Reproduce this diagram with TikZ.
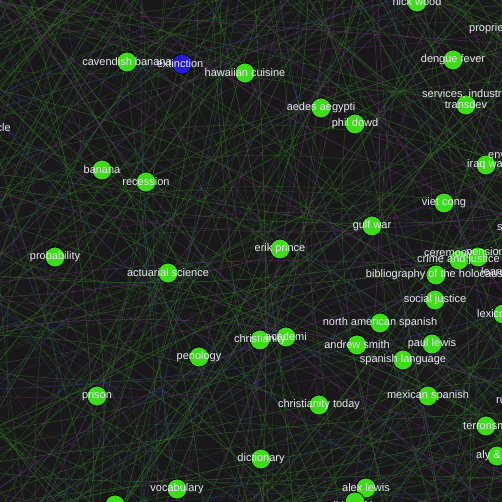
\documentclass[tikz,border=0pt]{standalone}
\usepackage{fontspec}
\setmainfont{Liberation Sans}
\definecolor{bgc}{RGB}{25,23,26}
\definecolor{nodegreen}{RGB}{62,218,28}
\definecolor{nodeblue}{RGB}{36,28,214}
\definecolor{edgegreen}{RGB}{50,118,38}
\definecolor{edgepurple}{RGB}{100,45,110}
\definecolor{edgeblue}{RGB}{45,70,120}
\definecolor{lblc}{RGB}{232,232,240}
\tikzset{
  dot/.style={circle,draw=black,line width=0.7pt,fill=nodegreen,minimum size=20pt,inner sep=0pt},
  bdot/.style={dot,fill=nodeblue},
  lbl/.style={text=lblc,font=\fontsize{11}{13}\selectfont,inner sep=0pt},
  gedge/.style={draw=edgegreen,line width=0.55pt},
  pedge/.style={draw=edgepurple,line width=0.6pt},
  bedge/.style={draw=edgeblue,line width=0.55pt}
}
\begin{document}
\begin{tikzpicture}[x=1pt,y=-1pt]
\useasboundingbox (0,0) rectangle (502,502);
\fill[bgc] (0,0) rectangle (502,502);
\clip (0,0) rectangle (502,502);
% background connectors
\pgfmathsetseed{4711}
\foreach \i in {1,...,300}{
  \pgfmathsetmacro\aa{rnd*360}
  \pgfmathsetmacro\ab{\aa+70+rnd*220}
  \pgfmathsetmacro\xa{251+430*cos(\aa)}
  \pgfmathsetmacro\ya{251+430*sin(\aa)}
  \pgfmathsetmacro\xb{251+430*cos(\ab)}
  \pgfmathsetmacro\yb{251+430*sin(\ab)}
  \pgfmathsetmacro\bd{rnd*50-25}
  \pgfmathsetmacro\op{0.25+rnd*0.45}
  \coordinate (ea) at (\xa,\ya);
  \coordinate (eb) at (\xb,\yb);
  \draw[gedge,opacity=\op] (ea) to[bend left=\bd] (eb);
}
\foreach \i in {1,...,45}{
  \pgfmathsetmacro\aa{rnd*360}
  \pgfmathsetmacro\ab{\aa+100+rnd*160}
  \pgfmathsetmacro\xa{251+430*cos(\aa)}
  \pgfmathsetmacro\ya{251+430*sin(\aa)}
  \pgfmathsetmacro\xb{251+430*cos(\ab)}
  \pgfmathsetmacro\yb{251+430*sin(\ab)}
  \pgfmathsetmacro\bd{rnd*40-20}
  \pgfmathsetmacro\op{0.35+rnd*0.4}
  \coordinate (ea) at (\xa,\ya);
  \coordinate (eb) at (\xb,\yb);
  \draw[pedge,opacity=\op] (ea) to[bend left=\bd] (eb);
}
\foreach \i in {1,...,30}{
  \pgfmathsetmacro\aa{rnd*360}
  \pgfmathsetmacro\ab{\aa+100+rnd*160}
  \pgfmathsetmacro\xa{251+430*cos(\aa)}
  \pgfmathsetmacro\ya{251+430*sin(\aa)}
  \pgfmathsetmacro\xb{251+430*cos(\ab)}
  \pgfmathsetmacro\yb{251+430*sin(\ab)}
  \pgfmathsetmacro\bd{rnd*40-20}
  \pgfmathsetmacro\op{0.35+rnd*0.4}
  \coordinate (ea) at (\xa,\ya);
  \coordinate (eb) at (\xb,\yb);
  \draw[bedge,opacity=\op] (ea) to[bend left=\bd] (eb);
}
% nodes
\node[dot] (nw) at (417,2) {};
\node[dot] (cb) at (127,62) {};
\node[bdot] (ex) at (182,64) {};
\node[dot] (hc) at (245,73) {};
\node[dot] (df) at (453,60) {};
\node[dot] (td) at (466,105) {};
\node[dot] (aa) at (321,108) {};
\node[dot] (pd) at (355,124) {};
\node[dot] (iq) at (486,165) {};
\node[dot] (bn) at (102,170) {};
\node[dot] (rc) at (146,182) {};
\node[dot] (vc) at (444,203) {};
\node[dot] (gw) at (372,226) {};
\node[dot] (ep) at (280,249) {};
\node[dot] (pb) at (55,257) {};
\node[dot] (as) at (168,273) {};
\node[dot] (cj) at (459,260) {};
\node[dot] (pe) at (478,257) {};
\node[dot] (bh) at (436,275) {};
\node[dot] (sj) at (435,300) {};
\node[dot] (lx) at (503,314) {};
\node[dot] (nas) at (380,323) {};
\node[dot] (ch) at (260,340) {};
\node[dot] (ac) at (286,337) {};
\node[dot] (pl) at (432,344) {};
\node[dot] (asm) at (357,345) {};
\node[dot] (pn) at (199,357) {};
\node[dot] (sl) at (403,360) {};
\node[dot] (pr) at (97,396) {};
\node[dot] (ms) at (428,396) {};
\node[dot] (ct) at (319,405) {};
\node[dot] (te) at (486,426) {};
\node[dot] (al) at (497,456) {};
\node[dot] (di) at (261,459) {};
\node[dot] (alx) at (366,488) {};
\node[dot] (vo) at (177,489) {};
\node[dot] (poi) at (355,502) {};
\node[dot] (bt) at (115,505) {};
% labels
\node[lbl] at (nw) {nick wood};
\node[lbl] at (cb) {cavendish banana};
\node[lbl] at (180,64) {extinction};
\node[lbl] at (hc) {hawaiian cuisine};
\node[lbl] at (df) {dengue fever};
\node[lbl,anchor=west] at (469,29) {proprietary};
\node[lbl,anchor=west] at (422,94) {services, industries};
\node[lbl] at (td) {transdev};
\node[lbl] at (aa) {aedes aegypti};
\node[lbl] at (pd) {phil dowd};
\node[lbl,anchor=west] at (488,155) {environment};
\node[lbl,anchor=west] at (467,165) {iraq war};
\node[lbl,anchor=east] at (11,128) {cle};
\node[lbl] at (bn) {banana};
\node[lbl] at (rc) {recession};
\node[lbl] at (vc) {viet cong};
\node[lbl,anchor=west] at (497,228) {s};
\node[lbl] at (gw) {gulf war};
\node[lbl] at (ep) {erik prince};
\node[lbl] at (pb) {probability};
\node[lbl] at (as) {actuarial science};
\node[lbl,anchor=west] at (424,255) {ceremony};
\node[lbl,anchor=west] at (466,253) {pension};
\node[lbl,anchor=west] at (417,260) {crime and justice};
\node[lbl,anchor=west] at (481,273) {learning};
\node[lbl] at (bh) {bibliography of the holocaust};
\node[lbl] at (sj) {social justice};
\node[lbl,anchor=west] at (477,314) {lexicon};
\node[lbl] at (nas) {north american spanish};
\node[lbl] at (ch) {christianity};
\node[lbl] at (ac) {academi};
\node[lbl] at (pl) {paul lewis};
\node[lbl] at (asm) {andrew smith};
\node[lbl] at (pn) {penology};
\node[lbl] at (sl) {spanish language};
\node[lbl] at (pr) {prison};
\node[lbl] at (ms) {mexican spanish};
\node[lbl] at (ct) {christianity today};
\node[lbl,anchor=west] at (496,401) {ru};
\node[lbl,anchor=west] at (463,426) {terrorism};
\node[lbl,anchor=west] at (476,456) {aly \&};
\node[lbl] at (di) {dictionary};
\node[lbl] at (alx) {alex lewis};
\node[lbl] at (vo) {vocabulary};
\node[lbl,anchor=west] at (321,507) {politics of image};
\end{tikzpicture}
\end{document}
